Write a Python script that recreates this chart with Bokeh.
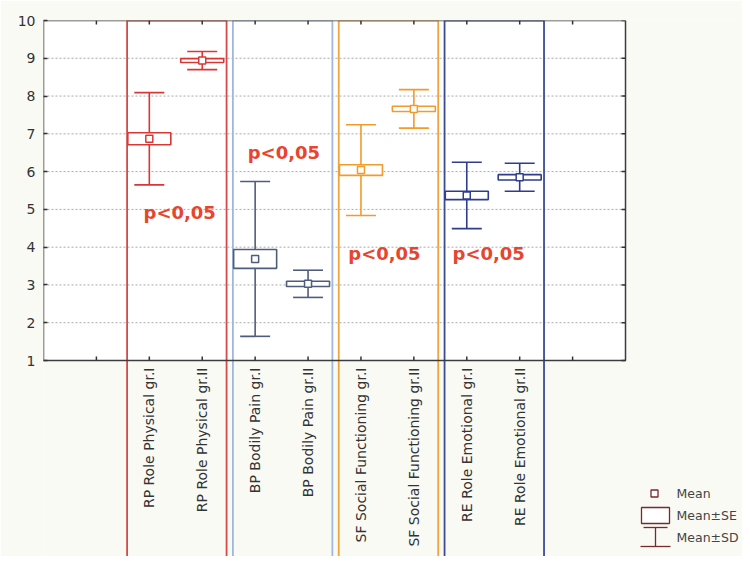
import math
from bokeh.plotting import figure
from bokeh.models import Range1d, FixedTicker
from bokeh.core.properties import value
from bokeh.embed import file_html
from bokeh.resources import INLINE

# ---------------- data ----------------
categories = [
    "RP Role Physical gr.I", "RP Role Physical gr.II",
    "BP Bodily Pain gr.I", "BP Bodily Pain gr.II",
    "SF Social Functioning gr.I", "SF Social Functioning gr.II",
    "RE Role Emotional gr.I", "RE Role Emotional gr.II",
]
cat_pos = [2, 3, 4, 5, 6, 7, 8, 9]
means = [6.87, 8.94, 3.69, 3.03, 6.04, 7.66, 5.37, 5.85]
se = [0.16, 0.05, 0.25, 0.07, 0.14, 0.07, 0.11, 0.07]
sd = [1.22, 0.24, 2.05, 0.36, 1.20, 0.51, 0.88, 0.37]

groups = ["RP", "BP", "SF", "RE"]
group_color = ["#d93636", "#4f5d7c", "#f29a2c", "#2f3d8e"]
group_box_color = ["#d94848", "#a0b8dc", "#f2a33c", "#3d4b96"]

p_text = ["p<0,05", "p<0,05", "p<0,05", "p<0,05"]
p_x = [1.89, 3.86, 5.76, 7.73]
p_y = [4.92, 6.50, 3.83, 3.83]

x_ticks = [1, 2, 3, 4, 5, 6, 7, 8, 9, 10]
y_ticks = [1, 2, 3, 4, 5, 6, 7, 8, 9, 10]
X0, X1 = 0, 11
Y0, Y1 = 1, 10

legend_labels = ["Mean", "Mean\u00b1SE", "Mean\u00b1SD"]

# ---------------- layout ----------------
W, H = 742, 556
ML, MT = 43, 20
FW, FH = W - ML, H - MT
XPX = 52.91   # px per x unit
YPX = 37.78   # px per y unit
xr = Range1d(X0, X0 + FW / XPX)
yr = Range1d(Y1 - FH / YPX, Y1)
Y_LOW = yr.start - 1

def px_x(px):  # canvas pixel -> data x
    return X0 + (px - ML) / XPX

def px_y(py):  # canvas pixel -> data y
    return Y1 - (py - MT) / YPX

cols = [group_color[i // 2] for i in range(len(categories))]
lo = [m - s for m, s in zip(means, sd)]
hi = [m + s for m, s in zip(means, sd)]

p = figure(width=W, height=H, x_range=xr, y_range=yr,
           output_backend="svg", toolbar_location=None,
           x_axis_location=None,
           min_border_left=ML, min_border_right=0,
           min_border_top=MT, min_border_bottom=0,
           background_fill_color="#fafaf5", border_fill_color="#fafaf5",
           outline_line_color=None)
p.xgrid.visible = False
p.ygrid.visible = False

ax = p.yaxis[0]
ax.ticker = FixedTicker(ticks=y_ticks)
ax.axis_line_color = None
ax.major_tick_in = 4
ax.major_tick_out = 0
ax.major_tick_line_color = "#333333"
ax.major_tick_line_width = 1.5
ax.minor_tick_line_color = None
ax.major_label_text_font = "DejaVu Sans"
ax.major_label_text_font_size = "14px"
ax.major_label_text_color = "#333333"
ax.major_label_standoff = 8

# plot area
p.quad(left=[X0], right=[X1], bottom=[Y0], top=[Y1], fill_color="white", line_color=None)
# dotted grid
gy = y_ticks[1:-1]
p.segment(x0=[X0] * len(gy), x1=[X1] * len(gy), y0=gy, y1=gy,
          line_color="#a9a9a9", line_width=1, line_dash="2 2")

# group boxes
centers = [(cat_pos[2 * i] + cat_pos[2 * i + 1]) / 2 for i in range(len(groups))]
p.quad(left=[c - 0.92 for c in centers], right=[c + 0.96 for c in centers],
       bottom=[Y_LOW] * len(groups), top=[Y1] * len(groups),
       fill_color=None, line_color=group_box_color, line_width=1.8)

# whiskers (Mean +- SD)
p.segment(x0=cat_pos, x1=cat_pos, y0=lo, y1=hi, line_color=cols, line_width=1.6)
p.scatter(x=cat_pos + cat_pos, y=lo + hi, marker="dash", size=30,
          line_color=cols + cols, line_width=1.6)
# boxes (Mean +- SE)
p.rect(x=cat_pos, y=means, width=43, width_units="screen",
       height=[2 * s for s in se], fill_color="white", line_color=cols, line_width=1.6)
# means
p.scatter(x=cat_pos, y=means, marker="square", size=7, fill_color="white",
          line_color=cols, line_width=1.5)

# plot border and ticks
p.quad(left=[X0], right=[X1], bottom=[Y0], top=[Y1], fill_color=None,
       line_color="#3c3c3c", line_width=1.5)
tx = 4 / XPX
ty = 4 / YPX
n = len(x_ticks)
p.segment(x0=x_ticks, x1=x_ticks, y0=[Y1] * n, y1=[Y1 - ty] * n, line_color="#333333", line_width=1.5)
p.segment(x0=x_ticks, x1=x_ticks, y0=[Y0] * n, y1=[Y0 + ty] * n, line_color="#333333", line_width=1.5)
p.segment(x0=[X1] * len(y_ticks), x1=[X1 - tx] * len(y_ticks), y0=y_ticks, y1=y_ticks,
          line_color="#333333", line_width=1.5)

# category labels
p.text(x=cat_pos, y=[Y0] * len(cat_pos), text=categories, angle=math.pi / 2,
       text_align="right", text_baseline="middle", y_offset=7,
       text_font=value("DejaVu Sans"), text_font_size="14px", text_color="#333333")

# p-value annotations
p.text(x=p_x, y=p_y, text=p_text, text_align="left", text_baseline="middle",
       text_font=value("DejaVu Sans"), text_font_style="bold",
       text_font_size="18px", text_color="#e8452f")

# legend (drawn)
lc = "#7a2a2a"
p.scatter(x=[px_x(654)], y=[px_y(493)], marker="square", size=7,
          fill_color="white", line_color=lc, line_width=1.3)
p.rect(x=[px_x(655)], y=[px_y(515)], width=28, height=16,
       width_units="screen", height_units="screen",
       fill_color="white", line_color=lc, line_width=1.3)
p.segment(x0=[px_x(655)], x1=[px_x(655)], y0=[px_y(527)], y1=[px_y(546)],
          line_color=lc, line_width=1.3)
p.scatter(x=[px_x(655), px_x(655)], y=[px_y(527), px_y(546)], marker="dash",
          size=[24, 30], line_color=lc, line_width=1.3)
p.text(x=[px_x(676)] * 3, y=[px_y(493), px_y(515), px_y(537)], text=legend_labels,
       text_align="left", text_baseline="middle",
       text_font=value("DejaVu Sans"), text_font_size="12.5px", text_color="#444444")

open("out.html", "w").write(file_html(p, INLINE))
